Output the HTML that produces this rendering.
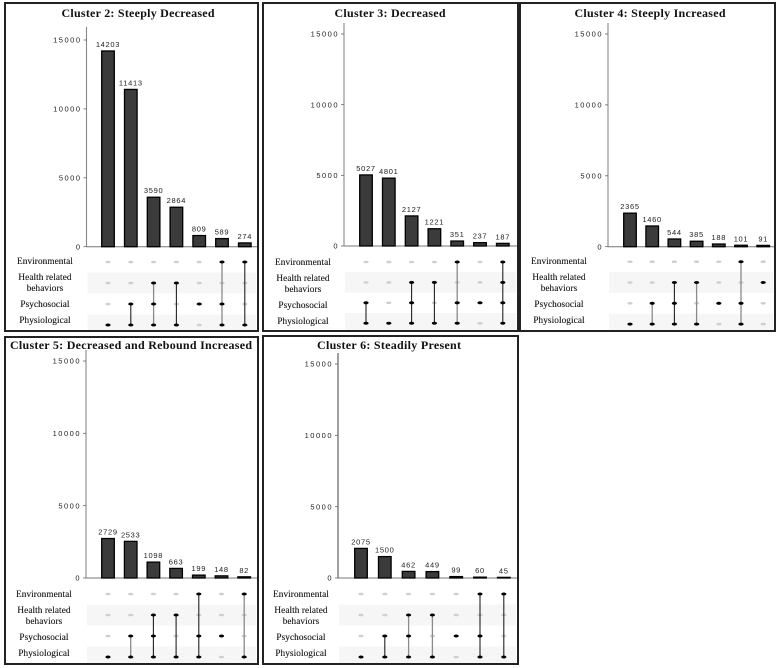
<!DOCTYPE html>
<html>
<head>
<meta charset="utf-8">
<title>Cluster UpSet plots</title>
<style>
html,body{margin:0;padding:0;background:#fff;}
svg{display:block;filter:blur(0.35px);}
</style>
</head>
<body>
<svg id="chart" width="777" height="668" viewBox="0 0 777 668" xmlns="http://www.w3.org/2000/svg"></svg>
<script>
// ---- data ----
const setNames = ["Environmental", "Health related behaviors", "Psychosocial", "Physiological"];
const tickValues = [0, 5000, 10000, 15000];
const clusterTitles = ["Cluster 2: Steeply Decreased", "Cluster 3: Decreased", "Cluster 4: Steeply Increased", "Cluster 5: Decreased and Rebound Increased", "Cluster 6: Steadily Present"];
const cluster2Values = [14203, 11413, 3590, 2864, 809, 589, 274];
const cluster3Values = [5027, 4801, 2127, 1221, 351, 237, 187];
const cluster4Values = [2365, 1460, 544, 385, 188, 101, 91];
const cluster5Values = [2729, 2533, 1098, 663, 199, 148, 82];
const cluster6Values = [2075, 1500, 462, 449, 99, 60, 45];
// membership: indexes into setNames for each bar
const cluster2Sets = [[3], [2,3], [1,2,3], [1,3], [2], [0,2,3], [0,3]];
const cluster3Sets = [[2,3], [3], [1,2,3], [1,3], [0,2,3], [2], [0,1,2,3]];
const cluster4Sets = [[3], [2,3], [1,2,3], [1,3], [2], [0,2,3], [1]];
const cluster5Sets = [[3], [2,3], [1,2,3], [1,3], [0,2,3], [2], [0,3]];
const cluster6Sets = [[3], [2,3], [1,2,3], [1,3], [2], [0,2,3], [0,3]];
const clusterValues = [cluster2Values, cluster3Values, cluster4Values, cluster5Values, cluster6Values];
const clusterSets = [cluster2Sets, cluster3Sets, cluster4Sets, cluster5Sets, cluster6Sets];

// ---- layout (one entry per panel) ----
const panelLayout = [
  {l:5,  t:3,   r:258, b:331, titleX:138, titleY:17,  titleW:153, axisX:86.5, axisTop:27,  y0:246.7, yMax:40,  bar0:108, step:22.8, row0:262, rowStep:21,  labelX:45,  labelY:261, grayLinks:[2,5]},
  {l:263,t:3,   r:518, b:331, titleX:390, titleY:17,  titleW:111, axisX:344,  axisTop:23,  y0:246,   yMax:34,  bar0:366, step:22.8, row0:262, rowStep:20.4,labelX:303, labelY:262, grayLinks:[4]},
  {l:520,t:3,   r:775, b:331, titleX:650, titleY:17,  titleW:151, axisX:608,  axisTop:23,  y0:246.7, yMax:34,  bar0:630, step:22.2, row0:261.7,rowStep:20.8,labelX:559, labelY:261, grayLinks:[1,3,5]},
  {l:5,  t:337, r:258, b:664, titleX:131, titleY:349, titleW:242, axisX:86,   axisTop:350, y0:578,   yMax:361, bar0:108, step:22.7, row0:594, rowStep:21,  labelX:44,  labelY:594, grayLinks:[1,6]},
  {l:263,t:336, r:518, b:664, titleX:389, titleY:349, titleW:144, axisX:338,  axisTop:353, y0:578,   yMax:364, bar0:361, step:23.8, row0:594, rowStep:21,  labelX:301, labelY:594, grayLinks:[2,3]}
];

const NS = "http://www.w3.org/2000/svg";
const chart = document.getElementById("chart");
const SERIF = '"Liberation Serif", serif';
const SANS = '"Liberation Sans", sans-serif';

function make(parent, tag, props, text) {
  const el = document.createElementNS(NS, tag);
  for (const k in props) el.setAttribute(k, props[k]);
  if (text !== undefined) el.textContent = text;
  parent.appendChild(el);
  return el;
}

clusterTitles.forEach(function (title, p) {
  const L = panelLayout[p];
  const values = clusterValues[p];
  const sets = clusterSets[p];
  const yScale = function (v) { return L.y0 - (v / 15000) * (L.y0 - L.yMax); };
  const xScale = function (i) { return L.bar0 + i * L.step; };
  const rowY = function (r) { return L.row0 + r * L.rowStep; };

  const g = make(chart, "g", {});
  
  

  // stripes
  [1, 3].forEach(function (r) {
    const top = rowY(r) - L.rowStep / 2;
    const bottom = Math.min(top + L.rowStep, L.b - 1);
    const stripe = make(g, "rect", {x: L.axisX + 1, y: top, width: L.r - L.axisX - 3, height: bottom - top, fill: "#f6f6f6"});
    
    
  });

  // frame
  const frame = make(g, "rect", {x: L.l, y: L.t, width: L.r - L.l, height: L.b - L.t, fill: "none", stroke: "#222", "stroke-width": 2});
  
  

  // title
  const titleEl = make(g, "text", {x: L.titleX, y: L.titleY, "text-anchor": "middle", "font-family": SERIF, "font-weight": "bold", "font-size": 12, fill: "#111", textLength: L.titleW, lengthAdjust: "spacing"}, title);
  
  

  // axes
  const yAxis = make(g, "line", {x1: L.axisX, x2: L.axisX, y1: L.axisTop, y2: L.y0, stroke: "#888", "stroke-width": p === 4 ? 1.6 : 1.1});
  
  
  const xAxis = make(g, "line", {x1: L.axisX, x2: L.r - 1, y1: L.y0, y2: L.y0, stroke: "#777", "stroke-width": 1});
  
  

  tickValues.forEach(function (t) {
    const y = yScale(t);
    const tick = make(g, "line", {x1: L.axisX - 3, x2: L.axisX, y1: y, y2: y, stroke: "#666", "stroke-width": 0.8});
    
    
    const label = make(g, "text", {x: L.axisX - 5, y: y + 2.6, "text-anchor": "end", "font-family": SANS, "font-size": 7.5, "letter-spacing": 1.5, fill: "#222"}, String(t));
    
    
  });

  // bars
  values.forEach(function (v, i) {
    const x = xScale(i);
    const y = yScale(v);
    const bar = make(g, "rect", {x: x - 6.3, y: y, width: 12.6, height: Math.max(L.y0 - y, 0.5), fill: "#3b3b3b", stroke: "#000", "stroke-width": 1.3});
    
    
    const label = make(g, "text", {x: x, y: y - 4, "text-anchor": "middle", "font-family": SANS, "font-size": 7.5, "letter-spacing": 0.7, fill: "#222"}, String(v));
    
    
  });

  // row labels
  const labelOffsets = [0, 16, 43, 59];
  setNames.forEach(function (name, r) {
    const base = L.labelY + labelOffsets[r];
    const text = make(g, "text", {x: L.labelX, y: base + 3, "text-anchor": "middle", "font-family": SERIF, "font-size": 9.2, "letter-spacing": 0.1, fill: "#111", stroke: "#111", "stroke-width": 0.12});
    
    
    if (r === 1) {
      const words = ["Health related", "behaviors"];
      words.forEach(function (w, k) {
        make(text, "tspan", {x: L.labelX, y: base + 3 + k * 11}, w);
      });
    } else {
      text.textContent = name;
    }
  });

  // matrix
  sets.forEach(function (members, i) {
    const x = xScale(i);
    setNames.forEach(function (_, r) {
      const active = members.indexOf(r) >= 0;
      if (active) return;
      const dot = make(g, "ellipse", {cx: x, cy: rowY(r), rx: 2.6, ry: 1.3, fill: "#cfcfcf"});
      
      
    });
    if (members.length > 1) {
      const first = Math.min.apply(null, members);
      const last = Math.max.apply(null, members);
      const gray = L.grayLinks.indexOf(i) >= 0;
      const link = make(g, "line", {x1: x, x2: x, y1: rowY(first), y2: rowY(last), stroke: gray ? "#8a8a8a" : "#222", "stroke-width": gray ? 1.3 : 1.1});
      
      
    }
    members.forEach(function (r) {
      const dot = make(g, "ellipse", {cx: x, cy: rowY(r), rx: 2.6, ry: 1.5, fill: "#000"});
      
      
    });
  });
});
</script>
</body>
</html>
